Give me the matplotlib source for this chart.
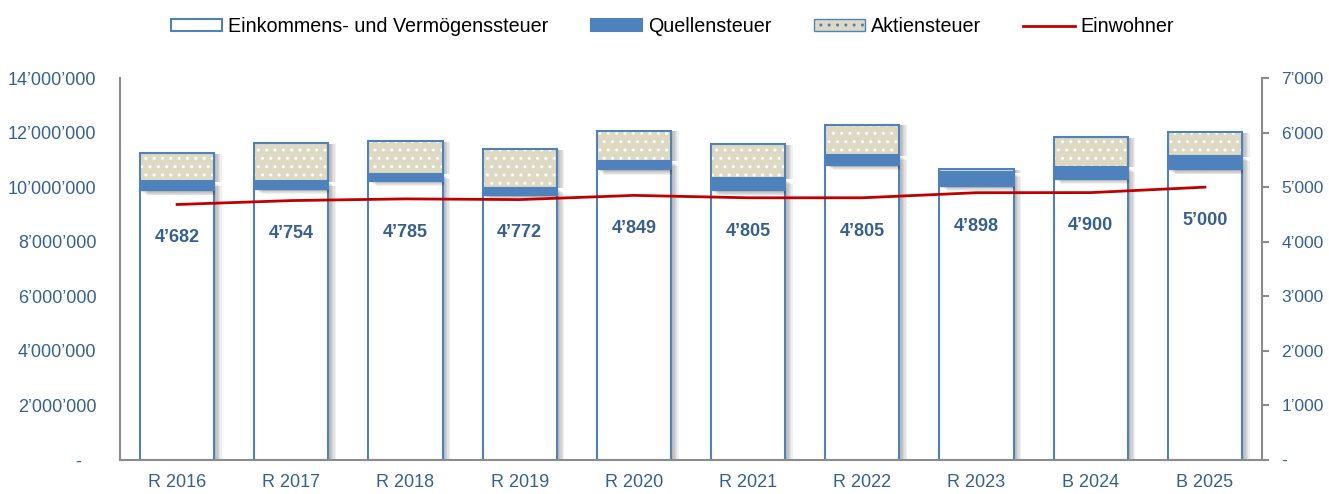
import matplotlib
matplotlib.use('Agg')
import matplotlib.pyplot as plt
from matplotlib.patches import Patch
from matplotlib.lines import Line2D
import matplotlib.patheffects as pe
from matplotlib.ticker import FuncFormatter, MultipleLocator
import numpy as np

categories = ['R 2016', 'R 2017', 'R 2018', 'R 2019', 'R 2020',
              'R 2021', 'R 2022', 'R 2023', 'B 2024', 'B 2025']
einkommen = [9.89e6, 9.93e6, 10.23e6, 9.71e6, 10.65e6, 9.89e6, 10.81e6, 10.04e6, 10.30e6, 10.66e6]
quellen = [0.33e6, 0.29e6, 0.27e6, 0.27e6, 0.32e6, 0.43e6, 0.37e6, 0.52e6, 0.45e6, 0.48e6]
aktien = [1.03e6, 1.39e6, 1.18e6, 1.41e6, 1.10e6, 1.26e6, 1.11e6, 0.10e6, 1.08e6, 0.87e6]
einwohner = [4682, 4754, 4785, 4772, 4849, 4805, 4805, 4898, 4900, 5000]

plt.rcParams['font.family'] = ['Liberation Sans', 'DejaVu Sans']
plt.rcParams['hatch.linewidth'] = 1.0

BLUE = '#4F81BD'
BEIGE = '#DDD9C3'
TXT = '#376092'
RED = '#C00000'
GRAY = '#8C8C8C'


def fmt(v, pos=None):
    if abs(v) < 1e-9:
        return '-   '
    return f"{int(round(v)):,}".replace(',', '\u2019')


def fmt_r(v, pos=None):
    if abs(v) < 1e-9:
        return '-'
    return f"{int(round(v)):,}".replace(',', '\u2019')


fig = plt.figure(figsize=(13.29, 4.94), dpi=100)
ax = fig.add_axes([0.0903, 0.0688, 0.8593, 0.7733])
x = np.arange(len(categories))
w = 0.65

shadow = [pe.SimplePatchShadow(offset=(o, -o * 0.7), shadow_rgbFace='k', alpha=0.06)
          for o in (1.5, 2.5, 3.5, 4.5, 5.5)] + [pe.Normal()]
shadow_side = [pe.SimplePatchShadow(offset=(o, -0.5), shadow_rgbFace='k', alpha=0.06)
               for o in (1.5, 2.5, 3.5, 4.5, 5.5)] + [pe.Normal()]

b1 = ax.bar(x, einkommen, w, color='white', edgecolor=BLUE, linewidth=1.5, zorder=2)
bot2 = np.array(einkommen)
b2 = ax.bar(x, quellen, w, bottom=bot2, color=BLUE, edgecolor=BLUE, linewidth=1.5, zorder=3)
bot3 = bot2 + np.array(quellen)
b3s = ax.bar(x, aktien, w, bottom=bot3, color=BEIGE, edgecolor=BEIGE, linewidth=0, zorder=4)
b3 = ax.bar(x, aktien, w, bottom=bot3, color=BEIGE, edgecolor='white', linewidth=0,
            hatch='..', zorder=4.2)
b3o = ax.bar(x, aktien, w, bottom=bot3, color='none', edgecolor=BLUE, linewidth=1.5, zorder=4.5)
for bars in (b1, b2):
    for p in bars:
        p.set_path_effects(shadow)
for p in b3s:
    p.set_path_effects(shadow_side)

ax.set_xlim(-0.5, len(categories) - 0.5)
ax.set_ylim(0, 14e6)
ax.yaxis.set_major_locator(MultipleLocator(2e6))
ax.yaxis.set_major_formatter(FuncFormatter(fmt))
ax.set_xticks(x)
ax.set_xticklabels(categories)
ax.tick_params(axis='both', length=0, labelsize=13, labelcolor=TXT, pad=10)
ax.tick_params(axis='y', pad=17)
for s in ('top', 'right'):
    ax.spines[s].set_visible(False)
for s in ('left', 'bottom'):
    ax.spines[s].set_color(GRAY)
    ax.spines[s].set_linewidth(1.5)

ax2 = ax.twinx()
ax2.plot(x, einwohner, color=RED, linewidth=2, zorder=6)
ax2.set_ylim(0, 7000)
ax2.yaxis.set_major_locator(MultipleLocator(1000))
ax2.yaxis.set_major_formatter(FuncFormatter(fmt_r))
ax2.tick_params(axis='y', length=5, width=1.5, color=GRAY, labelsize=12.5, labelcolor=TXT, pad=9)
for s in ('top', 'left', 'bottom'):
    ax2.spines[s].set_visible(False)
ax2.spines['right'].set_color(GRAY)
ax2.spines['right'].set_linewidth(1.5)

for xi, v in zip(x, einwohner):
    ax2.annotate(fmt_r(v), (xi, v), xytext=(0, -24), textcoords='offset points',
                 ha='center', va='center', fontsize=13, fontweight='bold', color=TXT, zorder=7)

handles = [
    Patch(facecolor='white', edgecolor=BLUE, linewidth=1.5),
    Patch(facecolor=BLUE, edgecolor=BLUE, linewidth=1.5),
    Patch(facecolor=BEIGE, edgecolor=BLUE, linewidth=1.0, hatch='..'),
    Line2D([0], [0], color=RED, linewidth=2),
]
labels = ['Einkommens- und Vermögenssteuer', 'Quellensteuer', 'Aktiensteuer', 'Einwohner']
fig.legend(handles, labels, loc='center', bbox_to_anchor=(0.506, 0.946), ncol=4,
           frameon=False, fontsize=14.2, handlelength=2.6, handleheight=0.55,
           handletextpad=0.3, columnspacing=2.15)

fig.savefig('out.png', dpi=100)
